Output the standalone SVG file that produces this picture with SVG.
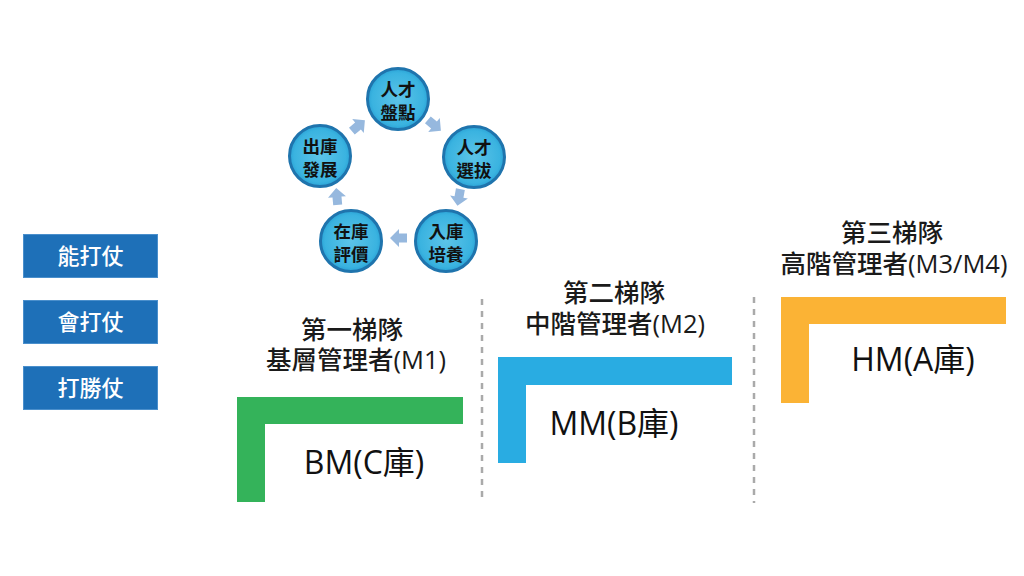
<svg xmlns="http://www.w3.org/2000/svg" width="1024" height="576" viewBox="0 0 1024 576">
<style>
  .cjk { font-family: "Open Sans", "Noto Sans CJK TC", "Noto Sans", sans-serif; }
  .circ { fill: url(#cg); stroke: #1f74ad; stroke-width: 3; }
  .ct { font-size: 17.5px; fill: #111; text-anchor: middle; font-weight: 700; font-family: "Noto Sans CJK TC", sans-serif; }
  .btn { fill: #1e70b8; stroke: #4a8fcc; stroke-width: 1; }
  .bt { font-size: 22px; fill: #fff; text-anchor: middle; font-family: "Noto Sans CJK TC", sans-serif; font-weight: 500; }
  .hd { font-size: 25.5px; fill: #1a1a1a; text-anchor: middle; font-weight: 500; }
  .lb { font-size: 32px; fill: #111; text-anchor: middle; }
  .dash { stroke: #aaaaaa; stroke-width: 2.5; stroke-dasharray: 6 6; fill: none; }
  .arr { fill: #96b8de; }
</style>
<defs>
  <radialGradient id="cg" cx="50%" cy="50%" r="50%">
    <stop offset="0%" stop-color="#5cc4e8"/>
    <stop offset="85%" stop-color="#3ab3e0"/>
    <stop offset="100%" stop-color="#2aa3d6"/>
  </radialGradient>
  <path id="ar" d="M-8,-4.5 L0,-4.5 L0,-9 L9,0 L0,9 L0,4.5 L-8,4.5 Z"/>
</defs>
<rect width="1024" height="576" fill="#ffffff"/>

<g id="connectors">
  <use href="#ar" class="arr" transform="translate(434,125) rotate(40)"/>
  <use href="#ar" class="arr" transform="translate(459,197) rotate(100)"/>
  <use href="#ar" class="arr" transform="translate(399,238) rotate(180)"/>
  <use href="#ar" class="arr" transform="translate(337,197) rotate(-95)"/>
  <use href="#ar" class="arr" transform="translate(358,126) rotate(-40)"/>
  <line class="dash" x1="482" y1="299" x2="482" y2="503"/>
  <line class="dash" x1="754" y1="297" x2="754" y2="503"/>
</g>

<g id="node-pandian">
  <circle class="circ" cx="398" cy="99" r="30.5"/>
  <text class="ct" x="398" y="96">人才</text>
  <text class="ct" x="398" y="119">盤點</text>
</g>
<g id="node-xuanba">
  <circle class="circ" cx="474" cy="157" r="30.5"/>
  <text class="ct" x="474" y="154">人才</text>
  <text class="ct" x="474" y="177">選拔</text>
</g>
<g id="node-peiyang">
  <circle class="circ" cx="446" cy="241" r="30.5"/>
  <text class="ct" x="446" y="238">入庫</text>
  <text class="ct" x="446" y="261">培養</text>
</g>
<g id="node-pingjia">
  <circle class="circ" cx="351" cy="241" r="30.5"/>
  <text class="ct" x="351" y="238">在庫</text>
  <text class="ct" x="351" y="261">評價</text>
</g>
<g id="node-fazhan">
  <circle class="circ" cx="320" cy="156" r="30.5"/>
  <text class="ct" x="320" y="153">出庫</text>
  <text class="ct" x="320" y="176">發展</text>
</g>

<g id="btn-1">
  <rect class="btn" x="23.5" y="234.5" width="134" height="43"/>
  <text class="bt" x="90.5" y="264">能打仗</text>
</g>
<g id="btn-2">
  <rect class="btn" x="23.5" y="300.5" width="134" height="43"/>
  <text class="bt" x="90.5" y="330">會打仗</text>
</g>
<g id="btn-3">
  <rect class="btn" x="23.5" y="366.5" width="134" height="43"/>
  <text class="bt" x="90.5" y="396">打勝仗</text>
</g>

<g id="tier-1">
  <text class="cjk hd" x="352" y="339">第一梯隊</text>
  <text class="cjk hd" x="356" y="369">基層管理者(M1)</text>
  <path d="M237,397 H463 V424 H265 V502 H237 Z" fill="#34b35a"/>
  <text class="cjk lb" x="364" y="474">BM(C庫)</text>
</g>
<g id="tier-2">
  <text class="cjk hd" x="614" y="302">第二梯隊</text>
  <text class="cjk hd" x="615" y="333">中階管理者(M2)</text>
  <path d="M498,357 H732 V385 H526 V463 H498 Z" fill="#29ace2"/>
  <text class="cjk lb" x="614" y="435">MM(B庫)</text>
</g>
<g id="tier-3">
  <text class="cjk hd" x="892" y="242">第三梯隊</text>
  <text class="cjk hd" x="894" y="273">高階管理者(M3/M4)</text>
  <path d="M781,297 H1006 V324 H809 V403 H781 Z" fill="#fbb335"/>
  <text class="cjk lb" x="913" y="371">HM(A庫)</text>
</g>
</svg>
